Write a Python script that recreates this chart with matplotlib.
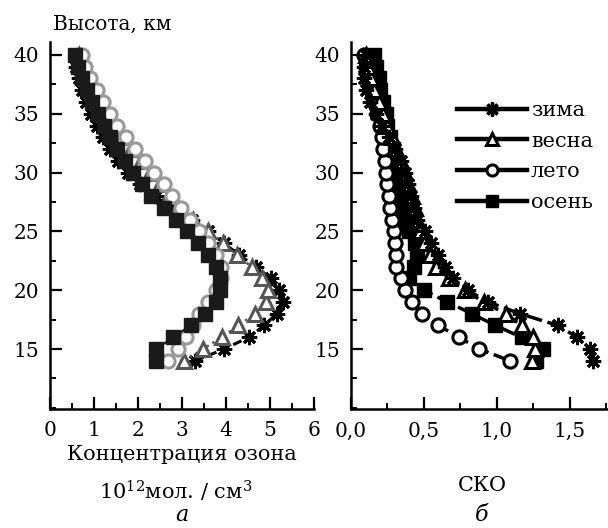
import matplotlib
matplotlib.use("Agg")
import matplotlib.pyplot as plt
from matplotlib.lines import Line2D
from matplotlib.ticker import MultipleLocator, FixedLocator

plt.rcParams['font.family'] = ['DejaVu Serif']
plt.rcParams['mathtext.fontset'] = 'dejavuserif'

# ---------------- data ----------------
altitude = list(range(14, 41))  # km, 14..40

# Panel a: ozone concentration, 10^12 mol/cm^3
conc_winter = [3.30, 3.96, 4.52, 4.87, 5.15, 5.30, 5.20, 5.02, 4.68, 4.30, 3.95, 3.60,
               3.22, 2.85, 2.40, 2.05, 1.78, 1.55, 1.36, 1.20, 1.06, 0.93, 0.82, 0.72,
               0.65, 0.60, 0.63]
conc_spring = [3.05, 3.48, 3.90, 4.28, 4.66, 4.91, 4.96, 4.82, 4.58, 4.24, 3.94, 3.60,
               3.25, 2.92, 2.70, 2.50, 2.28, 2.06, 1.85, 1.63, 1.42, 1.26, 1.10, 0.96,
               0.84, 0.74, 0.66]
conc_summer = [2.68, 2.91, 3.10, 3.25, 3.38, 3.60, 3.77, 3.88, 3.88, 3.77, 3.60, 3.38,
               3.18, 2.98, 2.78, 2.58, 2.36, 2.16, 1.93, 1.73, 1.52, 1.36, 1.21, 1.06,
               0.91, 0.80, 0.72]
conc_autumn = [2.42, 2.42, 2.79, 3.20, 3.52, 3.77, 3.86, 3.86, 3.77, 3.60, 3.37, 3.12,
               2.87, 2.60, 2.30, 2.08, 1.88, 1.70, 1.52, 1.36, 1.22, 1.08, 0.95, 0.83,
               0.73, 0.64, 0.57]

# Panel b: standard deviation (СКО)
sko_winter = [1.66, 1.64, 1.55, 1.42, 1.16, 0.94, 0.80, 0.70, 0.645, 0.60, 0.55, 0.51,
              0.45, 0.43, 0.41, 0.39, 0.37, 0.34, 0.30, 0.26, 0.21, 0.17, 0.13, 0.10,
              0.09, 0.09, 0.10]
sko_spring = [1.24, 1.26, 1.25, 1.17, 1.06, 0.91, 0.78, 0.67, 0.58, 0.54, 0.50, 0.47,
              0.45, 0.44, 0.42, 0.39, 0.37, 0.34, 0.31, 0.28, 0.25, 0.22, 0.19, 0.16,
              0.14, 0.12, 0.10]
sko_summer = [1.09, 0.88, 0.74, 0.60, 0.485, 0.42, 0.37, 0.34, 0.31, 0.31, 0.30, 0.295,
              0.28, 0.27, 0.26, 0.25, 0.24, 0.23, 0.22, 0.21, 0.20, 0.18, 0.16, 0.14,
              0.12, 0.10, 0.09]
sko_autumn = [1.27, 1.32, 1.17, 0.99, 0.83, 0.66, 0.50, 0.40, 0.43, 0.45, 0.44, 0.40,
              0.37, 0.35, 0.34, 0.33, 0.31, 0.30, 0.29, 0.27, 0.25, 0.24, 0.22, 0.20,
              0.19, 0.17, 0.16]

season_labels = ['зима', 'весна', 'лето', 'осень']
a_xticks = [0, 1, 2, 3, 4, 5, 6]
b_xticks = [0.0, 0.5, 1.0, 1.5]
b_xticklabels = ['0,0', '0,5', '1,0', '1,5']
yticks = [15, 20, 25, 30, 35, 40]

# ---------------- figure ----------------
W, H = 608, 528
fig = plt.figure(figsize=(W / 100, H / 100), dpi=100)

def px_rect(x0, y0, x1, y1):
    return [x0 / W, 1 - y1 / H, (x1 - x0) / W, (y1 - y0) / H]

axa = fig.add_axes(px_rect(50, 42, 314, 409))
axb = fig.add_axes(px_rect(351, 42, 608, 409))

ASTER = (8, 2, 0)
FS_TICK = 14.5
FS = 15

def style_axes(ax):
    for s in ['top', 'right']:
        ax.spines[s].set_visible(False)
    for s in ['left', 'bottom']:
        ax.spines[s].set_linewidth(1.8)
    ax.tick_params(which='major', direction='in', length=8.5, width=1.6,
                   labelsize=FS_TICK, pad=8)
    ax.tick_params(which='minor', direction='in', length=4, width=1.4)
    ax.tick_params(axis='x', which='major', pad=9)
    ax.set_ylim(9.9, 41.1)
    ax.yaxis.set_major_locator(FixedLocator(yticks))
    ax.yaxis.set_minor_locator(MultipleLocator(2.5))

# Panel a  (drawing order: winter, spring, summer, autumn on top)
axa.plot(conc_winter, altitude, color='black', lw=2.2, ls=(0, (3, 1.5)), marker=ASTER,
         ms=11, mec='black', mew=2.2, zorder=2)
axa.plot(conc_spring, altitude, color='#555555', lw=1.8, ls=':', marker='^', ms=10.5,
         mfc='white', mec='#555555', mew=2.2, zorder=3)
axa.plot(conc_summer, altitude, color='#999999', lw=1.5, ls='--', marker='o', ms=9.5,
         mfc='white', mec='#999999', mew=2.2, zorder=4)
axa.plot(conc_autumn, altitude, color='#1a1a1a', lw=1.5, marker='s', ms=9.5,
         mfc='#1a1a1a', mec='#1a1a1a', zorder=5)
style_axes(axa)
axa.set_xlim(0, 6)
axa.xaxis.set_major_locator(FixedLocator(a_xticks))
axa.xaxis.set_minor_locator(MultipleLocator(0.5))

# Panel b
dash = (0, (5, 1.6))
axb.plot(sko_winter, altitude, color='black', lw=2.5, ls=dash, marker=ASTER, ms=11,
         mew=2.2, zorder=5)
axb.plot(sko_spring, altitude, color='black', lw=2.5, ls=dash, marker='^', ms=10.5,
         mfc='white', mec='black', mew=2.2, zorder=4)
axb.plot(sko_summer, altitude, color='black', lw=2.5, ls=dash, marker='o', ms=9.5,
         mfc='white', mec='black', mew=2.2, zorder=3)
axb.plot(sko_autumn, altitude, color='black', lw=2.5, ls=dash, marker='s', ms=9.5,
         mfc='black', mec='black', zorder=2)
style_axes(axb)
axb.set_xlim(0, 1.763)
axb.xaxis.set_major_locator(FixedLocator(b_xticks))
axb.set_xticklabels(b_xticklabels)
axb.xaxis.set_minor_locator(MultipleLocator(0.25))
for ax in (axa, axb):
    for sp in ax.spines.values():
        sp.set_clip_on(False)

# Legend (proxy handles with solid thick lines)
markers = [dict(marker=ASTER, ms=10, mew=2.4, mec='black'),
           dict(marker='^', ms=9, mfc='white', mec='black', mew=2.2),
           dict(marker='o', ms=8, mfc='white', mec='black', mew=2.2),
           dict(marker='s', ms=9, mfc='black', mec='black')]
handles = [Line2D([], [], color='black', lw=3.2, **m) for m in markers]
fig.legend(handles, season_labels, loc='upper left',
           bbox_to_anchor=(457 / W, 1 - 101 / H), bbox_transform=fig.transFigure,
           frameon=False, fontsize=FS, handlelength=3.35, handletextpad=0.2,
           labelspacing=0.56, borderpad=0, borderaxespad=0)

# Texts
def ftext(x, y, s, **kw):
    fig.text(x / W, 1 - y / H, s, **kw)

ftext(53, 30, 'Высота, км', fontsize=FS - 0.5, ha='left', va='baseline')
ftext(182, 460, 'Концентрация озона', fontsize=FS, ha='center', va='baseline')
ftext(176, 500, r'10$^{12}$мол. / см$^{3}$', fontsize=FS, ha='center', va='baseline')
ftext(182, 521, 'а', fontsize=FS + 1, ha='center', va='baseline', fontstyle='italic')
ftext(482, 491, 'СКО', fontsize=FS, ha='center', va='baseline')
ftext(482, 521, 'б', fontsize=FS + 1, ha='center', va='baseline', fontstyle='italic')

fig.savefig('out.png', dpi=100)
